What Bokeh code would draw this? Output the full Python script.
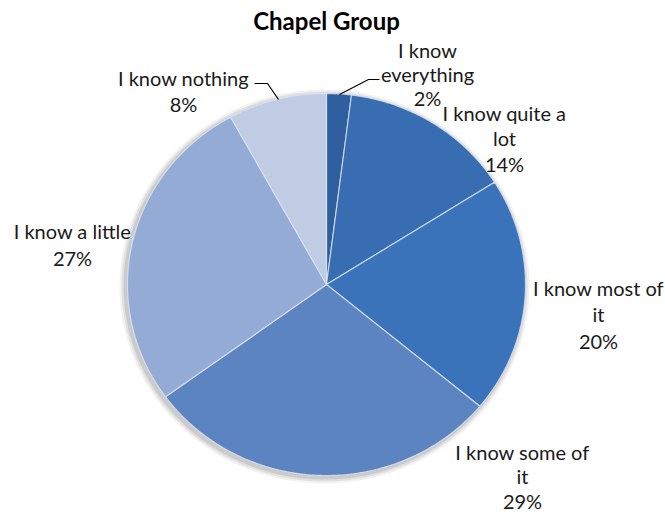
import numpy as np
from bokeh.plotting import figure
from bokeh.models import Range1d
from bokeh.core.properties import value
from bokeh.embed import file_html
from bokeh.resources import INLINE

# ---- data ----
title = "Chapel Group"
categories = ["I know everything", "I know quite a lot", "I know most of it",
              "I know some of it", "I know a little", "I know nothing"]
percents = [2, 14, 20, 29, 27, 8]
label_lines = [
    ["I know", "everything", "2%"],
    ["I know quite a", "lot", "14%"],
    ["I know most of", "it", "20%"],
    ["I know some of", "it", "29%"],
    ["I know a little", "27%"],
    ["I know nothing", "8%"],
]

# ---- layout / style (screen px, origin top-left of the picture) ----
colors = ["#2f5f9f", "#396db1", "#3b73bb", "#5c84c0", "#94abd5", "#c0cce4"]
W, H = 665, 514
cx, cy = 326, 284          # pie centre
rx, ry = 199, 191          # pie radii
label_pos = [              # (centre x, first line y, line step)
    (427, 49, 24),
    (504, 112, 25.5),
    (598, 287, 26.5),
    (522, 451, 24.5),
    (72, 230, 27),
    (183, 77, 26),
]
leaders = [
    [(339, 94), (368, 79), (379, 79)],
    [(254, 83), (267, 83), (278, 99)],
]

def Y(y):
    return H - y

p = figure(width=W, height=H, output_backend="svg", toolbar_location=None,
           x_range=Range1d(0, W), y_range=Range1d(0, H),
           min_border=0)
p.axis.visible = False
p.grid.visible = False
p.outline_line_color = None
p.background_fill_color = "white"

# soft shadow
t = np.linspace(0, 2 * np.pi, 200)
for k, a in [(6, 0.05), (4, 0.07), (2, 0.09)]:
    p.patch(cx - 2 + (rx + k) * np.cos(t), Y(cy + 2 + (ry + k) * np.sin(t)),
            fill_color="#000000", fill_alpha=a, line_color=None)

total = float(sum(percents))
cum = 0.0
xs, ys = [], []
for v in percents:
    a0 = 2 * np.pi * cum / total
    a1 = 2 * np.pi * (cum + v) / total
    cum += v
    th = np.linspace(a0, a1, max(4, int(v * 4)))
    # clockwise from top, screen coords
    px = cx + rx * np.sin(th)
    py = cy - ry * np.cos(th)
    xs.append(np.concatenate([[cx], px, [cx]]))
    ys.append(Y(np.concatenate([[cy], py, [cy]])))
p.patches(xs, ys, fill_color=colors, line_color="#dbe4f2", line_width=1.2,
          line_alpha=0.8)

# leader lines
for pts in leaders:
    p.line([q[0] for q in pts], [Y(q[1]) for q in pts], line_color="black",
           line_width=1.2)

# labels
tx, ty, tt = [], [], []
for lines, (lx, ly, step) in zip(label_lines, label_pos):
    for i, s in enumerate(lines):
        tx.append(lx)
        ty.append(Y(ly + i * step))
        tt.append(s)
p.text(tx, ty, text=tt, text_align="center", text_baseline="middle",
       text_font=value("Lato"), text_font_size="20px", text_color="#1a1a1a")

p.text([326], [Y(20)], text=[title], text_align="center", text_baseline="middle",
       text_font=value("Lato"), text_font_size="24px", text_font_style="bold",
       text_color="black")

open("out.html", "w").write(file_html(p, INLINE))
